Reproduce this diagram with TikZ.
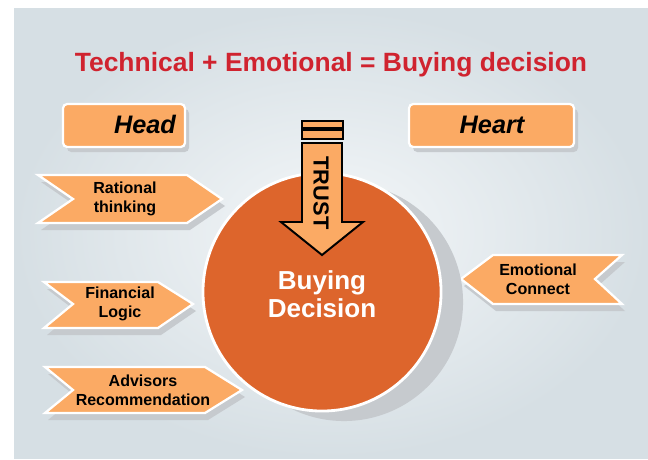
\documentclass[tikz,border=0pt]{standalone}
\usepackage{fontspec}
\setmainfont{Liberation Sans}
\definecolor{titlered}{HTML}{D0232F}
\definecolor{boxorange}{HTML}{FBAA64}
\definecolor{ballorange}{HTML}{DD652C}
\definecolor{shadowgray}{HTML}{C6CACE}
\definecolor{panelin}{HTML}{F4F7F9}
\definecolor{panelout}{HTML}{D6DFE4}

\begin{document}
\begin{tikzpicture}[x=0.025cm, y=-0.025cm,
    tab/.style={fill=boxorange, draw=white, line width=1.6pt, line join=miter},
    tabshadow/.style={fill=shadowgray},
    tabtext/.style={align=center, font=\fontsize{11.4}{13.5}\selectfont\bfseries},
    headtext/.style={font=\fontsize{18}{20}\selectfont\bfseries\itshape}]
      \useasboundingbox (0,0) rectangle (648,459);

      % Panel
      \shade[inner color=panelin, outer color=panelout] (14,9) rectangle (648,458);

      % Title
      \node[anchor=base, text=titlered, font=\fontsize{18.8}{22}\selectfont\bfseries]
        (title) at (331,72) {Technical + Emotional = Buying decision};

      % Head and Heart boxes
      \fill[tabshadow, rounded corners=3] (67,109) rectangle (189,152);
      \draw[tab, rounded corners=3] (63,104) rectangle (185,147);
      \node[headtext, anchor=base] (head) at (145,134) {Head};
      \fill[tabshadow, rounded corners=3] (413,109) rectangle (578,152);
      \draw[tab, rounded corners=3] (409,104) rectangle (574,147);
      \node[headtext, anchor=base] (heart) at (492,134) {Heart};

      % Left chevrons (shadows first)
      \fill[tabshadow] (41,182) -- (190,182) -- (225,206) -- (190,230) -- (41,230) -- (76,206) -- cycle;
      \draw[tab] (38,175) -- (187,175) -- (222,199) -- (187,223) -- (38,223) -- (73,199) -- cycle;
      \node[tabtext] (rational) at (125,199) {Rational\\thinking};

      \fill[tabshadow] (47,289) -- (161,289) -- (196,311) -- (161,335) -- (47,335) -- (76,311) -- cycle;
      \draw[tab] (44,282) -- (158,282) -- (193,304) -- (158,328) -- (44,328) -- (73,304) -- cycle;
      \node[tabtext] (financial) at (120,304) {Financial\\Logic};

      \fill[tabshadow] (48,374) -- (208,374) -- (245,397) -- (208,420) -- (48,420) -- (76,397) -- cycle;
      \draw[tab] (45,367) -- (205,367) -- (242,390) -- (205,413) -- (45,413) -- (73,390) -- cycle;
      \node[tabtext] (advisors) at (143,390) {Advisors\\Recommendation};

      % Right chevron
      \fill[tabshadow] (464,286) -- (496,262) -- (625,262) -- (598,286) -- (625,311) -- (496,311) -- cycle;
      \draw[tab] (461,279) -- (493,255) -- (622,255) -- (595,279) -- (622,304) -- (493,304) -- cycle;
      \node[tabtext] (emotional) at (538,279) {Emotional\\Connect};

      % Ball
      \fill[shadowgray] (344,302) circle[radius=2.975cm];
      \draw[fill=ballorange, draw=white, line width=2pt] (322,292) circle[radius=2.975cm];
      \node[align=center, text=white, font=\fontsize{18.5}{20}\selectfont\bfseries]
        (decision) at (322,294) {Buying\\Decision};

      % Trust arrow
      \draw[fill=boxorange, line width=1.2pt] (302,121) rectangle (343,128);
      \draw[fill=boxorange, line width=1.2pt] (302,130) rectangle (343,139);
      \draw[fill=boxorange, line width=1.4pt, line join=miter]
             (302,143) -- (342,143) -- (342,222) -- (363,222) --
             (322,255) -- (281,222) -- (302,222) -- cycle;
      \node[rotate=-90, font=\fontsize{15.5}{17}\selectfont\bfseries] (trust) at (321,193) {TRUST};
    \end{tikzpicture}
\end{document}
